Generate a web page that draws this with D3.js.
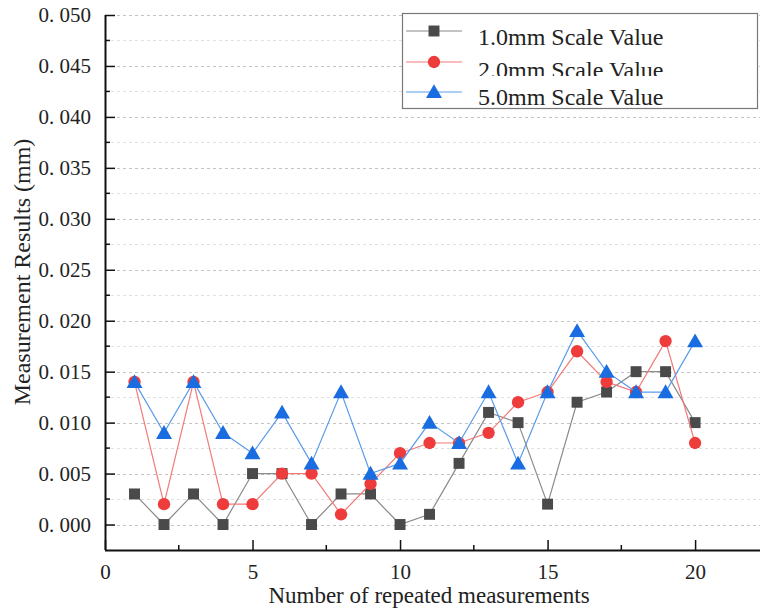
<!DOCTYPE html>
<html>
<head>
<meta charset="utf-8">
<script src="https://cdn.jsdelivr.net/npm/d3@7"></script>
<style>
  body { margin: 0; background: #fff; }
  text { font-family: "Liberation Serif", "Times New Roman", serif; fill: #222; }
</style>
</head>
<body>
<div id="chart"></div>
<script>
var svgWidth = 761;
var svgHeight = 609;

var margin = { top: 15, right: 1, bottom: 59, left: 105 };
var chartWidth = svgWidth - margin.left - margin.right;
var chartHeight = svgHeight - margin.top - margin.bottom;

// data
var runs = d3.range(1, 21);
var scale1mm = [0.003, 0.000, 0.003, 0.000, 0.005, 0.005, 0.000, 0.003, 0.003, 0.000,
                0.001, 0.006, 0.011, 0.010, 0.002, 0.012, 0.013, 0.015, 0.015, 0.010];
var scale2mm = [0.014, 0.002, 0.014, 0.002, 0.002, 0.005, 0.005, 0.001, 0.004, 0.007,
                0.008, 0.008, 0.009, 0.012, 0.013, 0.017, 0.014, 0.013, 0.018, 0.008];
var scale5mm = [0.014, 0.009, 0.014, 0.009, 0.007, 0.011, 0.006, 0.013, 0.005, 0.006,
                0.010, 0.008, 0.013, 0.006, 0.013, 0.019, 0.015, 0.013, 0.013, 0.018];
var seriesNames = ["1.0mm Scale Value", "2.0mm Scale Value", "5.0mm Scale Value"];
var xTicks = [0, 5, 10, 15, 20];
var yTicks = [0, 0.005, 0.01, 0.015, 0.02, 0.025, 0.03, 0.035, 0.04, 0.045, 0.05];

var series = [
  { name: seriesNames[0], values: scale1mm, line: "#8a8a8a", fill: "#4a4a4a", shape: d3.symbolSquare, size: 120 },
  { name: seriesNames[1], values: scale2mm, line: "#f27a7a", fill: "#ee3b3b", shape: d3.symbolCircle, size: 120 },
  { name: seriesNames[2], values: scale5mm, line: "#5a9bea", fill: "#1a6de0", shape: d3.symbolTriangle, size: 110 }
];

var svg = d3.select("#chart")
  .append("svg")
  .attr("width", svgWidth)
  .attr("height", svgHeight);

var chartGroup = svg.append("g")
  .attr("transform", `translate(${margin.left}, ${margin.top})`);

var xScale = d3.scaleLinear().domain([0, 22.2]).range([0, chartWidth]);
var yScale = d3.scaleLinear().domain([-0.0025, 0.05]).range([chartHeight, 0]);

// grid lines (major + minor), dashed
var minorY = d3.range(0, 21).map(i => i * 0.0025);
chartGroup.append("g")
  .selectAll("line")
  .data(minorY)
  .enter()
  .append("line")
  .attr("x1", 0)
  .attr("x2", chartWidth)
  .attr("y1", d => Math.round(yScale(d)) + 0.5)
  .attr("y2", d => Math.round(yScale(d)) + 0.5)
  .attr("stroke", (d, i) => i % 2 === 0 ? "#c4c4c4" : "#e0e0e0")
  .attr("stroke-dasharray", "3,3")
  .attr("stroke-width", 1);

// axes
var fmt = d => "0. " + d3.format(".3f")(d).slice(2);

var leftAxis = d3.axisLeft(yScale)
  .tickValues(yTicks)
  .tickFormat(fmt)
  .tickSizeInner(-10)
  .tickSizeOuter(0)
  .tickPadding(14);

var bottomAxis = d3.axisBottom(xScale)
  .tickValues(xTicks)
  .tickSizeInner(-10)
  .tickSizeOuter(0)
  .tickPadding(14);

var yAxis = chartGroup.append("g").call(leftAxis);
var xAxis = chartGroup.append("g")
  .attr("transform", `translate(0, ${chartHeight})`)
  .call(bottomAxis);

[xAxis, yAxis].forEach(function(ax) {
  ax.attr("font-family", "Liberation Serif");
  ax.select(".domain").attr("stroke", "#111").attr("stroke-width", 2);
  ax.selectAll(".tick line").attr("stroke", "#111").attr("stroke-width", 1.5);
  ax.selectAll(".tick text")
    .attr("fill", "#222")
    .style("font-family", "\"Liberation Serif\", serif")
    .style("font-size", "21px");
});
yAxis.select(".domain").attr("d", `M0.5,${chartHeight}V0`);
xAxis.select(".domain").attr("d", `M0,0.5H${chartWidth}`);

// minor ticks
chartGroup.append("g")
  .selectAll("line")
  .data(minorY.filter((d, i) => i % 2 === 1))
  .enter()
  .append("line")
  .attr("x1", 0).attr("x2", 5)
  .attr("y1", d => yScale(d)).attr("y2", d => yScale(d))
  .attr("stroke", "#111").attr("stroke-width", 1.5);

chartGroup.append("g")
  .selectAll("line")
  .data([2.5, 7.5, 12.5, 17.5])
  .enter()
  .append("line")
  .attr("x1", d => xScale(d)).attr("x2", d => xScale(d))
  .attr("y1", chartHeight).attr("y2", chartHeight - 5)
  .attr("stroke", "#111").attr("stroke-width", 1.5);

// series
var line = d3.line()
  .x((d, i) => xScale(runs[i]))
  .y(d => yScale(d));

series.forEach(function(s) {
  chartGroup.append("path")
    .datum(s.values)
    .attr("fill", "none")
    .attr("stroke", s.line)
    .attr("stroke-width", 1.2)
    .attr("d", line);

  chartGroup.append("g")
    .selectAll("path")
    .data(s.values)
    .enter()
    .append("path")
    .attr("transform", (d, i) => `translate(${xScale(runs[i])}, ${yScale(d) + (s.shape === d3.symbolTriangle ? 1.5 : 0)})`)
    .attr("d", d3.symbol().type(s.shape).size(s.size))
    .attr("fill", s.fill);
});

// axis titles
svg.append("text")
  .attr("transform", "rotate(-90)")
  .attr("x", -272)
  .attr("y", 30)
  .attr("text-anchor", "middle")
  .style("font-size", "24px")
  .text("Measurement Results (mm)");

svg.append("text")
  .attr("x", 429)
  .attr("y", 603)
  .attr("text-anchor", "middle")
  .style("font-size", "23px")
  .text("Number of repeated measurements");

// legend
var legend = svg.append("g");
legend.append("rect")
  .attr("x", 402.5).attr("y", 13.5)
  .attr("width", 355).attr("height", 95)
  .attr("fill", "#fff")
  .attr("stroke", "#777")
  .attr("stroke-width", 1.2);

var rowY = [31, 62, 92];
var textY = [45, 78, 105];
series.forEach(function(s, i) {
  if (i === 2) {
    legend.append("rect")
      .attr("x", 470).attr("y", 76)
      .attr("width", 210).attr("height", 30)
      .attr("fill", "#fff");
  }
  legend.append("line")
    .attr("x1", 406).attr("x2", 462)
    .attr("y1", rowY[i]).attr("y2", rowY[i])
    .attr("stroke", s.line).attr("stroke-width", 1.2);
  legend.append("path")
    .attr("transform", `translate(434, ${rowY[i] + (s.shape === d3.symbolTriangle ? 1.5 : 0)})`)
    .attr("d", d3.symbol().type(s.shape).size(s.size))
    .attr("fill", s.fill);
  legend.append("text")
    .attr("x", 478)
    .attr("y", textY[i])
    .style("font-size", "24px")
    .attr("fill", "#111")
    .text(s.name);
});
</script>
</body>
</html>
